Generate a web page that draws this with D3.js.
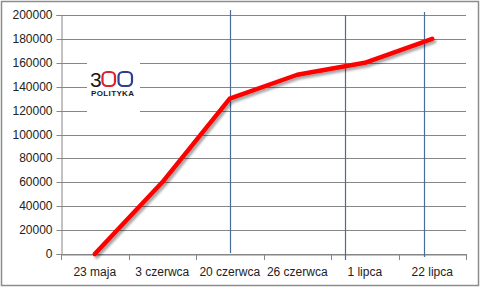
<!DOCTYPE html>
<html><head><meta charset="utf-8">
<script src="https://cdn.jsdelivr.net/npm/d3@7"></script>
<style>body{margin:0;background:#fff}svg{display:block}text{font-family:"Liberation Sans",Arial,sans-serif}</style>
</head><body><svg id="c" width="481" height="289"></svg>
<script>
const categories = ["23 maja","3 czerwca","20 czerwca","26 czerwca","1 lipca","22 lipca"];
const values = [0, 60000, 130000, 150000, 160000, 180000];
const yTicks = [0,20000,40000,60000,80000,100000,120000,140000,160000,180000,200000];
const markerIdx = [2.0, 3.71, 4.88];

const svg = d3.select("#c");
const L=61, R=466, T=15, B=254;
svg.append("rect").attr("x",1.5).attr("y",1.5).attr("width",477).attr("height",284).attr("fill","#fff").attr("stroke","#8c8c8c").attr("stroke-width",1.5);

const x = d3.scaleBand().domain(categories).range([L,R]).padding(0);
const xi = d3.scaleLinear().domain([-0.5, categories.length-0.5]).range([L,R]);
const y = d3.scaleLinear().domain([0,200000]).range([B,T]);

// gridlines
svg.append("g").selectAll("line").data(yTicks).join("line")
  .attr("x1",L).attr("x2",R).attr("y1",d=>Math.round(y(d))+0.5).attr("y2",d=>Math.round(y(d))+0.5)
  .attr("stroke","#868686").attr("stroke-width",1);

// y axis
const ya = svg.append("g").attr("transform",`translate(${L+0.5},0)`)
  .call(d3.axisLeft(y).tickValues(yTicks).tickSize(5).tickPadding(4).tickFormat(d3.format("d")));
ya.select(".domain").attr("stroke","#868686");
ya.selectAll(".tick line").attr("stroke","#868686");
ya.selectAll(".tick").attr("transform",d=>`translate(0,${Math.round(y(d))+0.5})`);
ya.selectAll("text").attr("font-size","12px").attr("fill","#222").attr("font-family","Liberation Sans, Arial, sans-serif");

// x axis
const xa = svg.append("g").attr("transform",`translate(0,${B+0.5})`)
  .call(d3.axisBottom(x).tickSize(0).tickPadding(13));
xa.select(".domain").attr("stroke","#868686");
xa.selectAll("text").attr("font-size","12px").attr("fill","#222").attr("font-family","Liberation Sans, Arial, sans-serif");
const edges = categories.map(c=>x(c)).concat([x(categories[categories.length-1])+x.bandwidth()]);
svg.append("g").selectAll("line").data(edges).join("line")
  .attr("x1",d=>Math.round(d)+0.5).attr("x2",d=>Math.round(d)+0.5).attr("y1",B).attr("y2",B+6)
  .attr("stroke","#868686");

// vertical blue markers
const tops=[10,15,12], bots=[253,260,257];
svg.append("g").selectAll("line").data(markerIdx).join("line")
  .attr("x1",d=>Math.round(xi(d))+0.5).attr("x2",d=>Math.round(xi(d))+0.5)
  .attr("y1",(d,i)=>tops[i]).attr("y2",(d,i)=>bots[i])
  .attr("stroke","#4a6c9b").attr("stroke-width",1.2);

// logo
const lg = svg.append("g");
lg.append("rect").attr("x",87).attr("y",55).attr("width",53).attr("height",58).attr("fill","#fff");
lg.append("text").attr("x",90).attr("y",86.5).attr("font-size","21px").attr("font-family","DejaVu Sans, sans-serif").attr("fill","#1a1a1a").text("3");
lg.append("rect").attr("x",102.5).attr("y",72).attr("width",12.5).attr("height",14).attr("rx",4.5).attr("fill","none").attr("stroke","#e0202a").attr("stroke-width",2.2);
lg.append("rect").attr("x",118.5).attr("y",72).attr("width",13.5).attr("height",14).attr("rx",4.5).attr("fill","none").attr("stroke","#2e3f8f").attr("stroke-width",2.2);
lg.append("text").attr("x",91).attr("y",96).attr("font-size","8px").attr("font-weight","bold").attr("textLength",43).attr("fill","#1a1a1a").text("POLITYKA");

// line with shadow
const defs = svg.append("defs");
const f = defs.append("filter").attr("id","sh").attr("x","-10%").attr("y","-10%").attr("width","130%").attr("height","130%");
f.append("feDropShadow").attr("dx",2).attr("dy",2.5).attr("stdDeviation",1.3).attr("flood-color","#000").attr("flood-opacity",0.35);
const line = d3.line().x((d,i)=>x(categories[i])+x.bandwidth()/2).y(d=>y(d));
svg.append("path").datum(values).attr("d",line).attr("fill","none")
  .attr("stroke","#ff0000").attr("stroke-width",4.5).attr("stroke-linejoin","round").attr("stroke-linecap","round")
  .attr("filter","url(#sh)");
</script></body></html>
